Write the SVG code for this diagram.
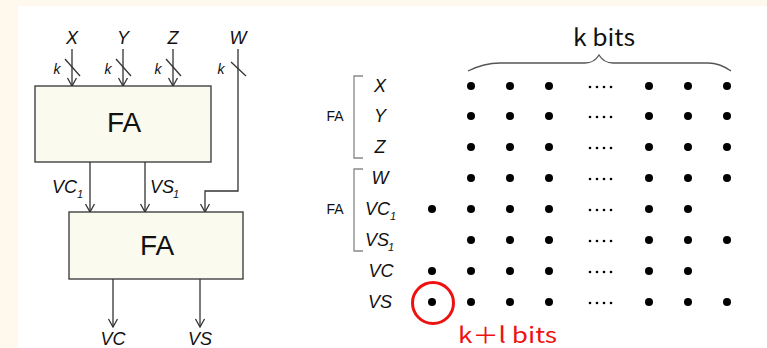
<svg xmlns="http://www.w3.org/2000/svg" width="767" height="348" viewBox="0 0 767 348">
<defs>
<style>
.lbl{font-family:"Liberation Sans",Arial,sans-serif;font-style:italic;fill:#111;}
.big{font-family:"Liberation Sans",Arial,sans-serif;font-size:28px;fill:#111;text-anchor:middle;}
.box{fill:#fafaee;stroke:#333;stroke-width:1.3;}
.wire{fill:none;stroke:#333;stroke-width:1.3;}
.tick{stroke:#333;stroke-width:1.3;}
.dot{fill:#000;}
.sm{fill:#000;}
.brk{fill:none;stroke:#888;stroke-width:1.3;}
.fa{font-family:"Liberation Sans",Arial,sans-serif;font-size:14px;fill:#111;text-anchor:middle;}
</style>
<marker id="arr" markerWidth="10" markerHeight="12" refX="9" refY="6" orient="auto" markerUnits="userSpaceOnUse" viewBox="0 0 10 12">
<polyline points="1,1.5 9,6 1,10.5" fill="none" stroke="#333" stroke-width="1.3"/>
</marker>
<g id="row7">
<circle class="dot" cx="471" cy="0" r="4"/><circle class="dot" cx="510" cy="0" r="4"/><circle class="dot" cx="549" cy="0" r="4"/>
<circle class="sm" cx="590" cy="1" r="1.3"/><circle class="sm" cx="597" cy="1" r="1.3"/><circle class="sm" cx="604" cy="1" r="1.3"/><circle class="sm" cx="611" cy="1" r="1.3"/>
<circle class="dot" cx="649" cy="0" r="4"/><circle class="dot" cx="688" cy="0" r="4"/>
</g>
</defs>
<rect width="767" height="348" fill="#fef9ec"/>
<rect x="18" y="6" width="749" height="342" fill="#ffffff"/>

<g id="connectors">
<line class="wire" x1="72" y1="49" x2="72" y2="86" marker-end="url(#arr)"/>
<line class="wire" x1="123" y1="49" x2="123" y2="86" marker-end="url(#arr)"/>
<line class="wire" x1="173" y1="49" x2="173" y2="86" marker-end="url(#arr)"/>
<line class="tick" x1="65" y1="59" x2="80" y2="76"/>
<line class="tick" x1="116" y1="59" x2="131" y2="76"/>
<line class="tick" x1="166" y1="59" x2="181" y2="76"/>
<line class="tick" x1="231" y1="62" x2="246" y2="76"/>
<polyline class="wire" points="238,49 238,191 205,191 205,212" marker-end="url(#arr)"/>
<line class="wire" x1="90" y1="162" x2="90" y2="212" marker-end="url(#arr)"/>
<line class="wire" x1="145" y1="162" x2="145" y2="212" marker-end="url(#arr)"/>
<line class="wire" x1="113" y1="279" x2="113" y2="327" marker-end="url(#arr)"/>
<line class="wire" x1="200" y1="279" x2="200" y2="327" marker-end="url(#arr)"/>
</g>

<g id="in-x"><text class="lbl" x="72" y="44" font-size="18" text-anchor="middle">X</text><text class="lbl" x="57" y="74" font-size="14" text-anchor="middle">k</text></g>
<g id="in-y"><text class="lbl" x="123" y="44" font-size="18" text-anchor="middle">Y</text><text class="lbl" x="108" y="74" font-size="14" text-anchor="middle">k</text></g>
<g id="in-z"><text class="lbl" x="173" y="44" font-size="18" text-anchor="middle">Z</text><text class="lbl" x="158" y="74" font-size="14" text-anchor="middle">k</text></g>
<g id="in-w"><text class="lbl" x="238" y="44" font-size="18" text-anchor="middle">W</text><text class="lbl" x="221" y="74" font-size="14" text-anchor="middle">k</text></g>

<g id="fa1"><rect class="box" x="35" y="86" width="176" height="76"/><text class="big" x="124" y="132">FA</text></g>
<g id="fa2"><rect class="box" x="69" y="212" width="174" height="67"/><text class="big" x="157" y="255">FA</text></g>

<g id="lbl-vc1"><text class="lbl" x="52" y="193" font-size="18">VC</text><text class="lbl" x="77" y="198" font-size="11">1</text></g>
<g id="lbl-vs1"><text class="lbl" x="150" y="193" font-size="18">VS</text><text class="lbl" x="173" y="198" font-size="11">1</text></g>
<g id="out-vc"><text class="lbl" x="113" y="345" font-size="18" text-anchor="middle">VC</text></g>
<g id="out-vs"><text class="lbl" x="200" y="345" font-size="18" text-anchor="middle">VS</text></g>

<g id="right-labels">
<text class="lbl" x="380" y="92" font-size="18" text-anchor="middle">X</text>
<text class="lbl" x="380" y="122" font-size="18" text-anchor="middle">Y</text>
<text class="lbl" x="380" y="153" font-size="18" text-anchor="middle">Z</text>
<text class="lbl" x="380" y="184" font-size="18" text-anchor="middle">W</text>
<text class="lbl" x="365" y="215" font-size="18">VC</text><text class="lbl" x="390" y="220" font-size="11">1</text>
<text class="lbl" x="365" y="246" font-size="18">VS</text><text class="lbl" x="388" y="251" font-size="11">1</text>
<text class="lbl" x="381" y="277" font-size="18" text-anchor="middle">VC</text>
<text class="lbl" x="380" y="308" font-size="18" text-anchor="middle">VS</text>
</g>

<g id="brackets">
<path class="brk" d="M363,76 H354 V158 H363"/>
<text class="fa" x="335" y="121">FA</text>
<path class="brk" d="M363,169 H354 V251 H363"/>
<text class="fa" x="335" y="214">FA</text>
</g>

<g id="brace">
<path d="M468,71 C478,66 488,63 500,63 L585,63 C592,63 596,60 599,55 C602,60 606,63 613,63 L708,63 C718,63 724,66 731,71" fill="none" stroke="#555" stroke-width="1.3"/>
<text x="573" y="46" font-family="'Noto Sans CJK JP','Liberation Sans',sans-serif" font-size="23" fill="#111" textLength="62" lengthAdjust="spacingAndGlyphs">k bits</text>
</g>

<g id="dots">
<use href="#row7" y="86"/><circle class="dot" cx="727" cy="86" r="4"/>
<use href="#row7" y="116"/><circle class="dot" cx="727" cy="116" r="4"/>
<use href="#row7" y="147"/><circle class="dot" cx="727" cy="147" r="4"/>
<use href="#row7" y="178"/><circle class="dot" cx="727" cy="178" r="4"/>
<use href="#row7" y="209"/><circle class="dot" cx="432" cy="209" r="4"/>
<use href="#row7" y="240"/><circle class="dot" cx="727" cy="240" r="4"/>
<use href="#row7" y="271"/><circle class="dot" cx="432" cy="271" r="4"/>
<use href="#row7" y="302"/><circle class="dot" cx="432" cy="302" r="4"/><circle class="dot" cx="727" cy="302" r="4"/>
</g>

<g id="highlight">
<circle cx="433" cy="303" r="20.5" fill="none" stroke="#ee1111" stroke-width="3"/>
<text x="458" y="343" font-family="'Noto Sans CJK JP','Liberation Sans',sans-serif" font-size="22" fill="#ee1111" textLength="99" lengthAdjust="spacingAndGlyphs">k＋l bits</text>
</g>
</svg>
